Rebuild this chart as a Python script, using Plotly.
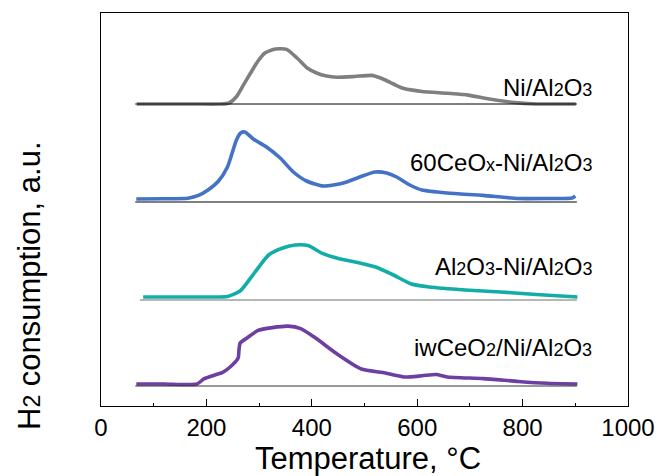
import plotly.graph_objects as go

# ---- data (temperature in °C, signal in arbitrary units above each baseline) ----
ni_T = [68, 120, 180, 225, 243, 258, 271, 285, 298, 311, 331, 352, 372, 392, 409, 428, 447,
        481, 514, 535, 555, 575, 609, 657, 697, 731, 779, 826, 870, 901]
ni_h = [0, 0, 0, 0, 1, 8, 19.6, 32, 43, 51, 55, 54.6, 46, 35.7, 31, 28, 26.8,
        27.5, 28.6, 25, 20, 15.4, 12.5, 10.7, 8.9, 5.4, 1.8, 0, 0, 0]

ce_T = [67, 120, 165, 185, 203, 223, 240, 257, 265, 273, 289, 314, 340, 365, 390, 422, 460,
        491, 520, 542, 561, 586, 609, 657, 725, 792, 850, 894, 900]
ce_h = [0, 0.2, 0.8, 3.6, 9, 18, 32, 59, 66, 67, 60, 52, 41, 27, 18, 13, 16,
        22, 27, 26, 22, 14, 9, 6, 3.6, 0.5, 0.5, 1, 3]

al_T = [80, 150, 200, 240, 264, 291, 318, 345, 369, 393, 420, 454, 487, 521, 555, 589,
        623, 691, 758, 826, 904]
al_h = [0, 0, 0, 0.5, 6, 24, 42, 49, 52, 51.4, 43.6, 38, 34.6, 30, 22, 13,
        10, 7, 5, 2.5, 0]

iw_T = [67, 120, 182, 196, 216, 230, 245, 260, 262, 264, 277, 298, 325, 355, 379, 406, 447,
        494, 535, 575, 609, 636, 657, 725, 792, 846, 904]
iw_h = [0, 0, 0, 5.4, 9, 11.4, 17, 25.7, 35, 41, 46, 53.6, 56.4, 57.9, 55.4, 46.4, 30.4,
        15, 11.4, 7, 8.2, 9.5, 7, 5.4, 2.5, 0.7, 0]

SUB = '<span style="font-size:18px">{}</span>'
labels = ["Ni/Al" + SUB.format("2") + "O" + SUB.format("3"),
          "60CeO" + SUB.format("x") + "-Ni/Al" + SUB.format("2") + "O" + SUB.format("3"),
          "Al" + SUB.format("2") + "O" + SUB.format("3") + "-Ni/Al" + SUB.format("2") + "O" + SUB.format("3"),
          "iwCeO" + SUB.format("2") + "/Ni/Al" + SUB.format("2") + "O" + SUB.format("3")]
x_ticks = [0, 200, 400, 600, 800, 1000]
x_title = "Temperature, °C"
y_title = "H" + '<span style="font-size:23px">2</span>' + " consumption, a.u."

# ---- styling / stacking ----
series = [(ni_T, ni_h), (ce_T, ce_h), (al_T, al_h), (iw_T, iw_h)]
colors = ["#7f7f7f", "#4472C4", "#13ADA8", "#6E3FA3"]
offsets = [302, 207, 109, 22]
line_offsets = [302, 204, 106, 20]
line_colors = ["#000000", "#000000", "#6f6f6f", "#333333"]
line_starts = [65, 65, 74, 65]
label_dy = [16.5, 37, 31, 36.5]
FONT = "Liberation Sans, Arial, sans-serif"

L, R, T, B = 101, 29, 13, 70
W, H = 657, 476
pw, ph = W - L - R, H - T - B

fig = go.Figure()
for (Tv, h), c, off in zip(series, colors, offsets):
    fig.add_trace(go.Scatter(x=Tv, y=[v + off for v in h], mode="lines",
                             line=dict(color=c, width=3.6, shape="spline", smoothing=0.6),
                             showlegend=False, hoverinfo="skip"))
for lo, lc, ls in zip(line_offsets, line_colors, line_starts):
    fig.add_trace(go.Scatter(x=[ls, 903], y=[lo, lo], mode="lines",
                             line=dict(color=lc, width=1), showlegend=False, hoverinfo="skip"))

for lab, off, dy in zip(labels, offsets, label_dy):
    fig.add_annotation(x=935, y=off + dy, xref="x", yref="y", text=lab, showarrow=False,
                       xanchor="right", yanchor="middle",
                       font=dict(family=FONT, size=24, color="black"))

fig.add_annotation(x=(368 - L) / pw, y=(H - B - 458) / ph, xref="paper", yref="paper",
                   text=x_title, showarrow=False, xanchor="center", yanchor="middle",
                   font=dict(family=FONT, size=31, color="black"))
fig.add_annotation(x=(29 - L) / pw, y=(H - B - 286) / ph, xref="paper", yref="paper",
                   text=y_title, showarrow=False, textangle=-90, xanchor="center", yanchor="middle",
                   font=dict(family=FONT, size=31, color="black"))

fig.update_layout(
    width=W, height=H,
    margin=dict(l=L, r=R, t=T, b=B, autoexpand=False),
    paper_bgcolor="white", plot_bgcolor="white",
    font=dict(family=FONT, color="black"),
    xaxis=dict(range=[0, 1000], tickvals=x_ticks, ticktext=[str(v) for v in x_ticks],
               automargin=False,
               showline=True, linecolor="black", linewidth=1.3, mirror=True,
               ticks="inside", ticklen=7, tickwidth=1.2, tickcolor="black",
               minor=dict(tickvals=[100, 300, 500, 700, 900], ticks="inside", ticklen=3,
                          tickwidth=1.2, tickcolor="black"),
               showgrid=False, zeroline=False,
               tickfont=dict(family=FONT, size=24, color="black")),
    yaxis=dict(range=[0, 393], automargin=False,
               showline=True, linecolor="black", linewidth=1.3, mirror=True,
               showticklabels=False, ticks="", showgrid=False, zeroline=False),
)

fig.write_html("out.html")
